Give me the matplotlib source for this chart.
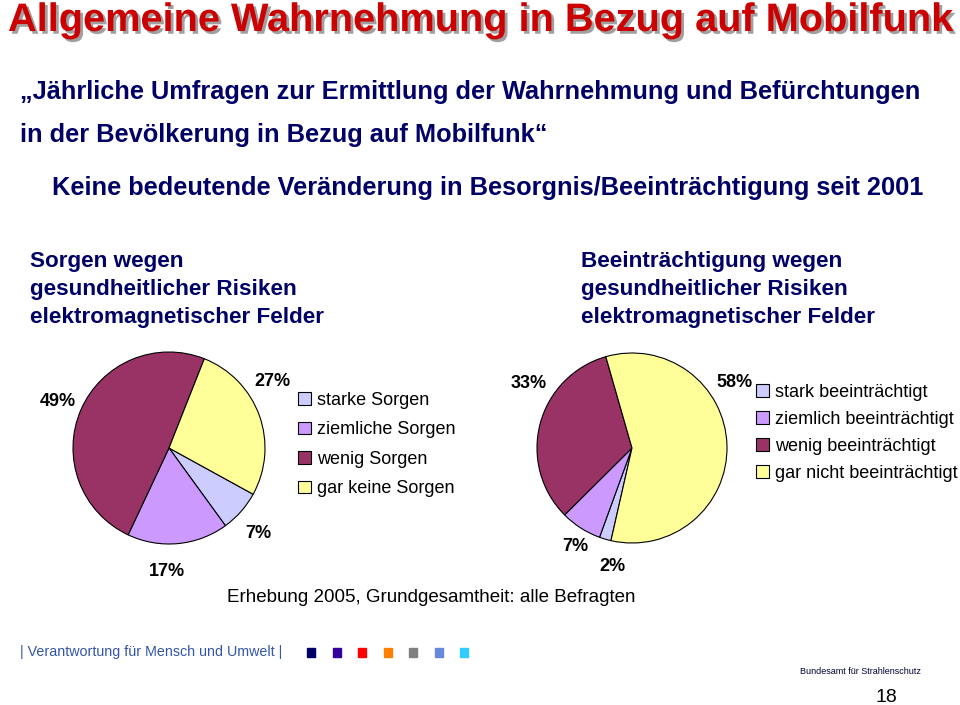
import matplotlib
matplotlib.use('Agg')
import matplotlib.pyplot as plt
import matplotlib.patheffects as pe
from matplotlib.patches import Rectangle

plt.rcParams['font.family'] = ['Liberation Sans', 'DejaVu Sans']

# Daten
sorgen_labels = ['starke Sorgen', 'ziemliche Sorgen', 'wenig Sorgen', 'gar keine Sorgen']
sorgen_werte = [7, 17, 49, 27]
beein_labels = ['stark beeinträchtigt', 'ziemlich beeinträchtigt',
                'wenig beeinträchtigt', 'gar nicht beeinträchtigt']
beein_werte = [2, 7, 33, 58]

farben = ['#CCCCFF', '#CC99FF', '#993366', '#FFFF99']
navy = '#000066'

W, H = 960, 705
fig = plt.figure(figsize=(9.6, 7.05), dpi=100)


def fx(x):
    return x / W


def fy(y):
    return 1 - y / H


# Titel mit Schatten
titel = 'Allgemeine Wahrnehmung in Bezug auf Mobilfunk'
fig.text(fx(8), fy(20), titel, color='#CC0000', fontsize=28.6, fontweight='bold', va='center',
         path_effects=[pe.withSimplePatchShadow(offset=(2, -2), shadow_rgbFace='#a0a0a0', alpha=1)])

fig.text(fx(20), fy(92), '„Jährliche Umfragen zur Ermittlung der Wahrnehmung und Befürchtungen',
         color=navy, fontsize=18.3, fontweight='bold', va='center')
fig.text(fx(20), fy(135), 'in der Bevölkerung in Bezug auf Mobilfunk“',
         color=navy, fontsize=18.3, fontweight='bold', va='center')
fig.text(fx(52), fy(188), 'Keine bedeutende Veränderung in Besorgnis/Beeinträchtigung seit 2001',
         color=navy, fontsize=18.3, fontweight='bold', va='center')

links = ['Sorgen wegen', 'gesundheitlicher Risiken', 'elektromagnetischer Felder']
rechts = ['Beeinträchtigung wegen', 'gesundheitlicher Risiken', 'elektromagnetischer Felder']
for i, (a, b) in enumerate(zip(links, rechts)):
    y = 262 + i * 27.5
    fig.text(fx(30), fy(y), a, color=navy, fontsize=16.2, fontweight='bold', va='center')
    fig.text(fx(581), fy(y), b, color=navy, fontsize=16.2, fontweight='bold', va='center')


def torte(cx, cy, r, werte, start, lab_pos, legend_labels, leg_xy, ls):
    ax = fig.add_axes([fx(cx - r), fy(cy + r), 2 * r / W, 2 * r / H])
    wedges, _, texte = ax.pie(werte, colors=farben, startangle=start, counterclock=False,
                              autopct='%d%%', pctdistance=1.2,
                              wedgeprops=dict(edgecolor='black', linewidth=0.8),
                              textprops=dict(fontsize=13, fontweight='bold', color='black'))
    for t, p in zip(texte, lab_pos):
        t.set_position(p)
    ax.set_xlim(-1, 1)
    ax.set_ylim(-1, 1)
    ax.legend(wedges, legend_labels, loc='upper left', bbox_to_anchor=(fx(leg_xy[0]), fy(leg_xy[1])),
              bbox_transform=fig.transFigure, frameon=False, fontsize=13,
              handlelength=0.7, handleheight=0.7, handletextpad=0.35,
              labelspacing=ls, borderpad=0, borderaxespad=0)
    return ax


torte(169, 448, 96, sorgen_werte, -28.8,
      [(0.93, -0.89), (-0.02, -1.29), (-1.16, 0.48), (1.08, 0.69)],
      sorgen_labels, (298, 392), 0.69)
torte(632, 448, 95, beein_werte, -102.8,
      [(-0.21, -1.25), (-0.60, -1.04), (-1.09, 0.68), (1.08, 0.69)],
      beein_labels, (756, 384), 0.55)

fig.text(fx(227), fy(598), 'Erhebung 2005, Grundgesamtheit: alle Befragten',
         fontsize=13.5, va='center')

# Fußzeile
fig.text(fx(20), fy(652), '| Verantwortung für Mensch und Umwelt |', color='#3355AA',
         fontsize=10.3, va='center')
deko = ['#000066', '#330099', '#FF0000', '#FF8000', '#808080', '#6688DD', '#33CCFF']
for i, c in enumerate(deko):
    fig.patches.append(Rectangle((fx(307 + i * 25.5), fy(657)), 8 / W, 9 / H, color=c,
                                 transform=fig.transFigure, figure=fig))
fig.text(fx(860), fy(672), 'Bundesamt für Strahlenschutz', color='#000033',
         fontsize=6.5, ha='center', va='center')
fig.text(fx(886), fy(698), '18', fontsize=14, ha='center', va='center')

fig.savefig('out.png', dpi=100)
